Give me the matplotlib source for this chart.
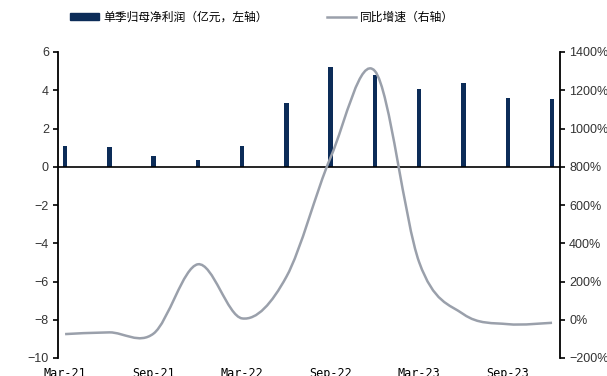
import matplotlib
matplotlib.use("Agg")
import matplotlib.pyplot as plt
from matplotlib.path import Path
from matplotlib.patches import PathPatch, Patch
from matplotlib.lines import Line2D
from matplotlib.ticker import FuncFormatter
import numpy as np

# 季度数据
quarters = ["Mar-21", "Jun-21", "Sep-21", "Dec-21", "Mar-22", "Jun-22",
            "Sep-22", "Dec-22", "Mar-23", "Jun-23", "Sep-23", "Dec-23"]
profit = [1.06, 1.03, 0.54, 0.36, 1.06, 3.32, 5.19, 4.79, 4.05, 4.36, 3.61, 3.53]
growth = [-75, -66, -72, 290, 7, 225, 850, 1300, 300, 29, -23, -16]

bar_color = "#0c2c58"
line_color = "#9aa0ab"
cjk = ["Noto Sans CJK SC", "DejaVu Sans"]


def smooth_path(xs, ys):
    # 平滑折线：用三次贝塞尔曲线连接各点
    pts = np.column_stack([xs, ys]).astype(float)
    n = len(pts)
    verts = [pts[0]]
    codes = [Path.MOVETO]
    for i in range(n - 1):
        p0 = pts[i - 1] if i > 0 else pts[i]
        p1 = pts[i]
        p2 = pts[i + 1]
        p3 = pts[i + 2] if i + 2 < n else pts[i + 1]
        c1 = p1 + (p2 - p0) / 6.0
        c2 = p2 - (p3 - p1) / 6.0
        verts += [c1, c2, p2]
        codes += [Path.CURVE4] * 3
    return Path(verts, codes)


fig = plt.figure(figsize=(6.07, 3.76), dpi=100)
ax = fig.add_axes([58 / 607, 1 - 358 / 376, (560 - 58) / 607, (358 - 52) / 376])
ax2 = ax.twinx()

x = np.arange(len(quarters))
ax.bar(x, profit, width=0.1, color=bar_color, zorder=2)
ax.axhline(0, color="black", lw=1.2, zorder=3)
ax.set_xlim(-0.16, 11.18)
ax.set_ylim(-10, 6)
ax.set_yticks(range(-10, 7, 2))

ax2.add_patch(PathPatch(smooth_path(x, growth), facecolor="none",
                        edgecolor=line_color, lw=1.8, zorder=4))
ax2.set_ylim(-200, 1400)
ax2.set_yticks(range(-200, 1401, 200))
ax2.yaxis.set_major_formatter(FuncFormatter(lambda v, p: f"{v:.0f}%".replace("-", "\u2212")))

ax.set_xticks(x[::2])
ax.set_xticklabels(quarters[::2], family="DejaVu Sans Mono", fontsize=8.5)
ax.tick_params(axis="x", length=0, pad=6.5)

for a in (ax, ax2):
    for s in ("top", "bottom"):
        a.spines[s].set_visible(False)
ax.spines["right"].set_visible(False)
ax2.spines["left"].set_visible(False)
ax.spines["left"].set_linewidth(1.3)
ax2.spines["right"].set_linewidth(1.3)
ax.tick_params(axis="y", direction="out", length=3.5, width=1.2, pad=3,
               labelsize=9, labelcolor="#333333")
ax2.tick_params(axis="y", direction="out", length=3.5, width=1.2, pad=3,
                labelsize=9, labelcolor="#333333")
for lab in ax.get_yticklabels() + ax2.get_yticklabels():
    lab.set_family("Liberation Sans")

handles = [Patch(facecolor=bar_color, edgecolor=bar_color),
           Line2D([], [], color=line_color, lw=1.8)]
fig.legend(handles, ["单季归母净利润（亿元，左轴）", "同比增速（右轴）"],
           loc="center", bbox_to_anchor=(262 / 607, 1 - 17 / 376), ncol=2,
           frameon=False, prop={"family": cjk, "size": 8.5},
           handlelength=2.5, handleheight=0.55, handletextpad=0.35,
           columnspacing=5.0)

fig.savefig("out.png", dpi=100)
